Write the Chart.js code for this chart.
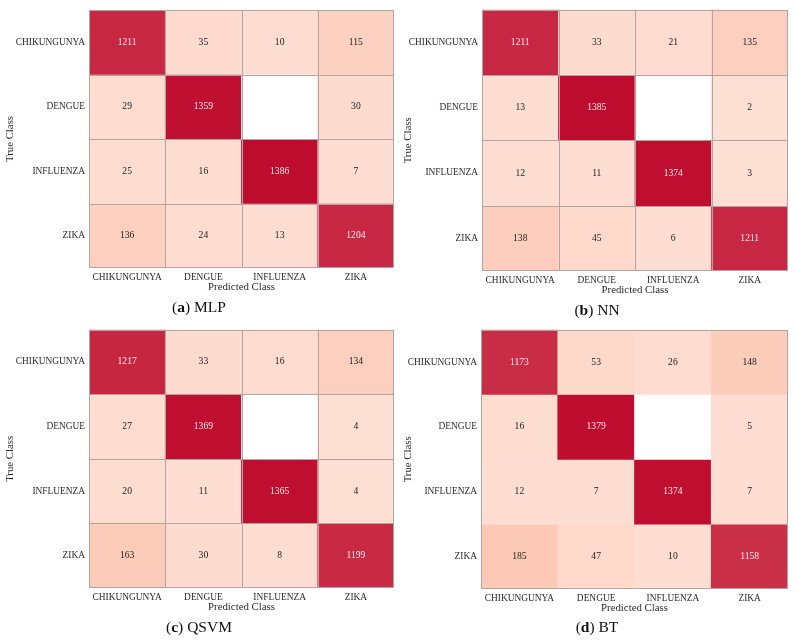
<!DOCTYPE html>
<html>
<head>
<meta charset="utf-8">
<script src="https://cdn.jsdelivr.net/npm/chart.js@4.4.1/dist/chart.umd.min.js"></script>
<style>
  body { margin: 0; background: #fff; }
  #wrap { position: relative; width: 796px; height: 642px; }
  canvas { position: absolute; }
  .cap { position: absolute; width: 398px; text-align: center; font-family: "Liberation Serif", serif; font-size: 15.5px; color: #111; line-height: 18px; }
</style>
</head>
<body>
<div id="wrap"></div>
<script>
// classes, rows = true class, columns = predicted class
const classes = ['CHIKUNGUNYA', 'DENGUE', 'INFLUENZA', 'ZIKA'];

const mlpValues = [
  [1211, 35, 10, 115],
  [29, 1359, 0, 30],
  [25, 16, 1386, 7],
  [136, 24, 13, 1204]
];
const nnValues = [
  [1211, 33, 21, 135],
  [13, 1385, 0, 2],
  [12, 11, 1374, 3],
  [138, 45, 6, 1211]
];
const qsvmValues = [
  [1217, 33, 16, 134],
  [27, 1369, 0, 4],
  [20, 11, 1365, 4],
  [163, 30, 8, 1199]
];
const btValues = [
  [1173, 53, 26, 148],
  [16, 1379, 0, 5],
  [12, 7, 1374, 7],
  [185, 47, 10, 1158]
];

const captions = [['a', 'MLP'], ['b', 'NN'], ['c', 'QSVM'], ['d', 'BT']];

// where each panel sits and where its plot area goes
const panels = [
  { vals: mlpValues,  x: 0,   y: 0,   area: [89, 10, 394, 268], grid: true,  capY: 298 },
  { vals: nnValues,   x: 398, y: 0,   area: [84, 7, 390, 271],  grid: true,  capY: 301 },
  { vals: qsvmValues, x: 0,   y: 320, area: [89, 5, 394, 268],  grid: true,  capY: 298 },
  { vals: btValues,   x: 398, y: 320, area: [83, 3, 390, 269],  grid: false, capY: 298 }
];

const W = 398, H = 300;
const lineColor = '#b3a4a1';
const serif = '"Liberation Serif", "DejaVu Serif", serif';

function mix(a, b, t) {
  return a.map((v, i) => Math.round(v + (b[i] - v) * t));
}
function cellColor(v) {
  if (v === 0) return '#ffffff';
  const t = Math.min(v / 1390, 1);
  const c0 = [254, 223, 212], c1 = [252, 198, 178], c2 = [190, 11, 46];
  const c = t < 0.15 ? mix(c0, c1, t / 0.15) : mix(c1, c2, (t - 0.15) / 0.85);
  return `rgb(${c[0]},${c[1]},${c[2]})`;
}

const cellText = {
  id: 'cellText',
  afterDatasetsDraw(chart) {
    const ctx = chart.ctx;
    ctx.save();
    ctx.font = '9.6px ' + serif;
    ctx.textAlign = 'center';
    ctx.textBaseline = 'middle';
    chart.data.datasets.forEach((ds, r) => {
      chart.getDatasetMeta(r).data.forEach((bar, c) => {
        const v = ds.counts[c];
        if (!v) return;
        ctx.fillStyle = v > 700 ? '#fbe9ec' : '#222';
        ctx.fillText(String(v), bar.x, (bar.y + bar.base) / 2);
      });
    });
    ctx.restore();
  }
};

// cell separators + outer frame
const frame = {
  id: 'frame',
  afterDraw(chart, args, opts) {
    const a = chart.chartArea, ctx = chart.ctx;
    const xs = chart.scales.x, ys = chart.scales.y;
    const px = (v) => Math.round(v) + 0.5;
    ctx.save();
    ctx.strokeStyle = lineColor;
    ctx.lineWidth = 1;
    if (opts.inner) {
      ctx.beginPath();
      for (let i = 1; i < classes.length; i++) {
        const x = px((xs.getPixelForTick(i - 1) + xs.getPixelForTick(i)) / 2);
        ctx.moveTo(x, a.top); ctx.lineTo(x, a.bottom);
        const y = px(ys.getPixelForValue(i));
        ctx.moveTo(a.left, y); ctx.lineTo(a.right, y);
      }
      ctx.stroke();
    }
    ctx.strokeRect(Math.round(a.left) + 0.5, Math.round(a.top) + 0.5,
      Math.round(a.right - a.left) - 1, Math.round(a.bottom - a.top) - 1);
    ctx.restore();
  }
};

const wrap = document.getElementById('wrap');

panels.forEach((p, k) => {
  const canvas = document.createElement('canvas');
  canvas.width = W; canvas.height = H;
  canvas.style.left = p.x + 'px'; canvas.style.top = p.y + 'px';
  wrap.appendChild(canvas);

  const cap = document.createElement('div');
  cap.className = 'cap';
  cap.style.left = p.x + 'px';
  cap.style.top = (p.y + p.capY) + 'px';
  cap.innerHTML = '(<b>' + captions[k][0] + '</b>) ' + captions[k][1];
  wrap.appendChild(cap);

  const [aL, aT, aR, aB] = p.area;
  const xTitleBottom = aB + 26;

  new Chart(canvas, {
    type: 'bar',
    data: {
      labels: classes,
      datasets: p.vals.map((row, r) => ({
        label: classes[r],
        data: row.map(() => 1),
        counts: row,
        backgroundColor: row.map(cellColor),
        borderWidth: 0,
        barPercentage: 1,
        categoryPercentage: 1
      }))
    },
    options: {
      responsive: false,
      animation: false,
      devicePixelRatio: 1,
      layout: { padding: { left: 0, top: aT, right: W - aR, bottom: H - xTitleBottom } },
      plugins: {
        legend: { display: false },
        tooltip: { enabled: false },
        frame: { inner: p.grid }
      },
      scales: {
        x: {
          stacked: true,
          offset: true,
          grid: { display: false, drawTicks: false },
          border: { display: false },
          ticks: { color: '#2a2a2a', padding: 4, font: { family: serif, size: 9.4 } },
          title: { display: true, text: 'Predicted Class', color: '#2a2a2a', padding: 0,
                   font: { family: serif, size: 10.8 } },
          afterFit: (s) => { s.height = xTitleBottom - aB; }
        },
        y: {
          stacked: true,
          reverse: true,
          min: 0,
          max: 4,
          afterBuildTicks: (s) => {
            s.ticks = [0.5, 1.5, 2.5, 3.5].map(v => ({ value: v }));
          },
          grid: { display: false, drawTicks: false },
          border: { display: false },
          ticks: {
            color: '#2a2a2a',
            padding: 4,
            autoSkip: false,
            font: { family: serif, size: 9.4 },
            callback: (v) => classes[v - 0.5]
          },
          title: { display: true, text: 'True Class', color: '#2a2a2a',
                   font: { family: serif, size: 10.8 } },
          afterFit: (s) => { s.width = aL; }
        }
      }
    },
    plugins: [cellText, frame]
  });
});
</script>
</body>
</html>
